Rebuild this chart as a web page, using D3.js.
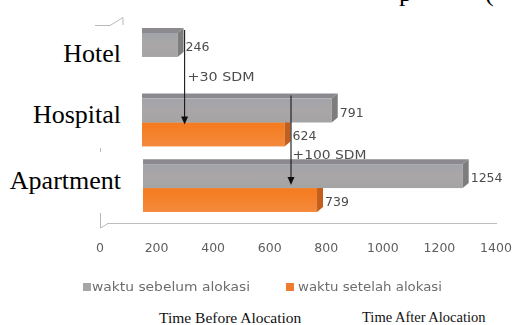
<!DOCTYPE html>
<html>
<head>
<meta charset="utf-8">
<script src="https://cdn.jsdelivr.net/npm/d3@7"></script>
<style>
  html, body { margin: 0; padding: 0; background: #fff; }
  svg { display: block; }
</style>
</head>
<body>
<svg id="chart" width="515" height="325"></svg>
<script>
// Chart data
const categories = ["Hotel", "Hospital", "Apartment"];
const timeBefore = [246, 791, 1254];
const timeAfter = [null, 624, 739];
const seriesNames = ["waktu sebelum alokasi", "waktu setelah alokasi"];
const xTicks = [0, 200, 400, 600, 800, 1000, 1200, 1400];
const staffNotes = ["+30 SDM", "+100 SDM"];
const captions = ["Time Before Alocation", "Time After Alocation"];
const titleBits = ["p", "("];

const svg = d3.select("#chart");
const defs = svg.append("defs");

defs.append("filter").attr("id", "soft")
  .attr("x", "-5%").attr("y", "-5%").attr("width", "110%").attr("height", "110%")
  .append("feGaussianBlur").attr("stdDeviation", 0.55);

const gGray = defs.append("linearGradient").attr("id", "grayFront")
  .attr("x1", 0).attr("y1", 0).attr("x2", 0).attr("y2", 1);
gGray.append("stop").attr("offset", "0%").attr("stop-color", "#a1a4aa");
gGray.append("stop").attr("offset", "50%").attr("stop-color", "#aaa6a7");
gGray.append("stop").attr("offset", "100%").attr("stop-color", "#a4a4a4");

const gOrange = defs.append("linearGradient").attr("id", "orangeFront")
  .attr("x1", 0).attr("y1", 0).attr("x2", 0).attr("y2", 1);
gOrange.append("stop").attr("offset", "0%").attr("stop-color", "#f47a1e");
gOrange.append("stop").attr("offset", "100%").attr("stop-color", "#f48a3c");

// Scales
const x = d3.scaleLinear().domain([0, 1400]).range([100, 496]);
const y = d3.scaleBand().domain(categories).range([33, 212]).paddingInner(0.27).paddingOuter(0);
const seriesKeys = ["before", "after"];
const ySub = d3.scaleBand().domain(seriesKeys).range([0, y.bandwidth()]);
const bh = ySub.bandwidth();

// 3D extrusion of the bars
const depth = { shift: 8, dx: 6, dy: 5 };
const xEnd = v => x(v) + depth.shift;

const palette = {
  before: { front: "url(#grayFront)", top: "#8c8a8e", side: "#7d7d7d" },
  after:  { front: "url(#orangeFront)", top: "#d4661a", side: "#c25f1b" }
};

const rows = categories.map((c, i) => ({ cat: c, before: timeBefore[i], after: timeAfter[i] }));

const chart = svg.append("g").attr("filter", "url(#soft)");

// Back wall / floor edges
const wall = chart.append("g").attr("stroke", "#b9b9b9").attr("fill", "none").attr("stroke-width", 1);
wall.append("line").attr("x1", 100.5).attr("x2", 100.5).attr("y1", 27).attr("y2", 228);
wall.append("path").attr("d", "M95,25.5 L110,25.5 L123,17.5 L123,25");
wall.append("path").attr("d", "M100.5,228 L108,223.5");
wall.append("line")
  .attr("x1", x(0) + 7).attr("x2", x(1400) + 1)
  .attr("y1", 223.5).attr("y2", 223.5)
  .attr("stroke", "#bdbdbd");

// Bars: after-series first so the before-series front faces sit over it
const barLayer = chart.append("g");
["after", "before"].forEach(key => {
  rows.filter(r => r[key] != null).forEach(r => {
    const x0 = xEnd(0), x1 = xEnd(r[key]);
    const yt = y(r.cat) + ySub(key), yb = yt + bh;
    const c = palette[key];
    const g = barLayer.append("g");
    g.append("polygon")
      .attr("points", [[x0, yt], [x1, yt], [x1 + depth.dx, yt - depth.dy], [x0 + depth.dx, yt - depth.dy]].join(" "))
      .attr("fill", c.top);
    g.append("rect").attr("x", x0).attr("y", yt).attr("width", x1 - x0).attr("height", bh).attr("fill", c.front);
    g.append("polygon")
      .attr("points", [[x1, yt], [x1 + depth.dx, yt - depth.dy], [x1 + depth.dx, yb - depth.dy], [x1, yb]].join(" "))
      .attr("fill", c.side);
  });
});

// Value labels
const valLayer = chart.append("g")
  .attr("font-family", "DejaVu Sans, Verdana, sans-serif")
  .attr("font-size", 12.5).attr("fill", "#4d4d4d");
seriesKeys.forEach(key => {
  rows.filter(r => r[key] != null).forEach(r => {
    valLayer.append("text")
      .attr("x", xEnd(r[key]) + depth.dx + 2)
      .attr("y", y(r.cat) + ySub(key) + bh / 2 + 1.5)
      .attr("dominant-baseline", "central")
      .text(r[key]);
  });
});

// Staffing arrows
const notes = [
  { text: staffNotes[0], x: xEnd(timeBefore[0]) + depth.dx + 1,
    y0: y(categories[0]) + ySub("before") - depth.dy + 2,
    y1: y(categories[1]) + ySub("after") + 2,
    ty: y(categories[0]) + ySub("after") + 24 },
  { text: staffNotes[1], x: xEnd(timeAfter[1]) + depth.dx + 0.5,
    y0: y(categories[1]) + ySub("before") - depth.dy + 2,
    y1: y(categories[2]) + ySub("before") + bh - 3,
    ty: y(categories[2]) + ySub("before") - 5.5 }
];
const arrowLayer = chart.append("g");
notes.forEach((n, i) => {
  arrowLayer.append("line")
    .attr("x1", n.x).attr("x2", n.x).attr("y1", n.y0).attr("y2", n.y1 - 6)
    .attr("stroke", "#1a1a1a").attr("stroke-width", 1.1);
  arrowLayer.append("polygon")
    .attr("points", [[n.x - 3.5, n.y1 - 8], [n.x + 3.5, n.y1 - 8], [n.x, n.y1]].join(" "))
    .attr("fill", "#111");
  arrowLayer.append("text")
    .attr("x", n.x + (i === 0 ? 3 : 1.5)).attr("y", n.ty)
    .attr("font-family", "DejaVu Sans, Verdana, sans-serif")
    .attr("font-size", 12).attr("fill", "#4d4d4d")
    .attr("textLength", i === 0 ? 67 : 74).attr("lengthAdjust", "spacingAndGlyphs")
    .text(n.text);
});

// X axis tick labels
chart.append("g")
  .attr("font-family", "DejaVu Sans, Verdana, sans-serif")
  .attr("font-size", 12.5).attr("fill", "#5e5e5e").attr("text-anchor", "middle")
  .selectAll("text").data(xTicks).join("text")
  .attr("x", d => x(d)).attr("y", 251.5)
  .text(d => d);

// Legend
const legend = chart.append("g")
  .attr("font-family", "DejaVu Sans, Verdana, sans-serif")
  .attr("font-size", 11.5).attr("fill", "#6e6e6e");
const legendItems = [
  { name: seriesNames[0], color: "#a6a6a6", sx: 83, tx: 92, len: 158 },
  { name: seriesNames[1], color: "#ee7d33", sx: 286, tx: 298, len: 144 }
];
legendItems.forEach(d => {
  legend.append("rect").attr("x", d.sx).attr("y", 283).attr("width", 8).attr("height", 8).attr("fill", d.color);
  legend.append("text").attr("x", d.tx).attr("y", 291)
    .attr("textLength", d.len).attr("lengthAdjust", "spacingAndGlyphs")
    .text(d.name);
});

// Category label panels
const panels = svg.append("g");
panels.append("rect").attr("x", 0).attr("y", 27).attr("width", 142).attr("height", 121).attr("fill", "#fff");
panels.append("rect").attr("x", 0).attr("y", 152).attr("width", 143).attr("height", 61).attr("fill", "#fff");

const labelBaselines = [62, 123, 189];
panels.selectAll("text.cat").data(categories).join("text")
  .attr("class", "cat")
  .attr("x", 121).attr("y", (d, i) => labelBaselines[i])
  .attr("text-anchor", "end")
  .attr("font-family", "Liberation Serif, Times New Roman, serif")
  .attr("font-size", 26).attr("fill", "#000")
  .text(d => d);

// Captions under the legend
const capG = svg.append("g")
  .attr("font-family", "Liberation Serif, Times New Roman, serif").attr("fill", "#111");
capG.append("text").attr("x", 159).attr("y", 322.5).attr("font-size", 15.5).text(captions[0]);
capG.append("text").attr("x", 362).attr("y", 322).attr("font-size", 14.5).text(captions[1]);

// Title fragments along the top edge
const titleG = svg.append("g")
  .attr("font-family", "Liberation Serif, Times New Roman, serif").attr("font-size", 26).attr("fill", "#000");
titleG.append("text").attr("x", 399).attr("y", 0.5).text(titleBits[0]);
titleG.append("text").attr("x", 485).attr("y", 0.5).text(titleBits[1]);
</script>
</body>
</html>
